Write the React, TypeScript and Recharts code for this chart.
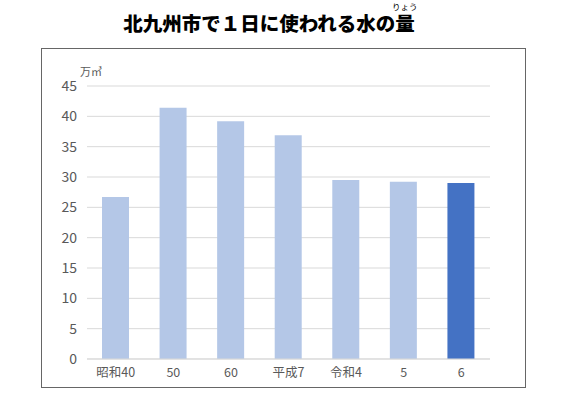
import { BarChart, Bar, XAxis, YAxis, CartesianGrid, Cell } from 'recharts';

const categories = ['昭和40', '50', '60', '平成7', '令和4', '5', '6'];
const usage = [26.7, 41.4, 39.2, 36.9, 29.5, 29.2, 29.0];
const yTicks = [0, 5, 10, 15, 20, 25, 30, 35, 40, 45];

const data = categories.map((name, i) => ({ name, value: usage[i] }));

const FONT = '"Noto Sans CJK JP", "Noto Sans", sans-serif';

export default function App() {
  return (
    <div style={{ position: 'absolute', left: 0, top: 0, width: 566, height: 393, background: '#fff', fontFamily: FONT }}>
      <div
        style={{
          position: 'absolute',
          left: 0,
          width: 538,
          top: 13,
          textAlign: 'center',
          fontSize: 19.5,
          fontWeight: 900,
          color: '#000',
          lineHeight: '20px',
        }}
      >
        北九州市で１日に使われる水の量
      </div>
      {/* furigana for 量 */}
      <div
        style={{
          position: 'absolute',
          left: 392,
          top: 2,
          fontSize: 8.5,
          lineHeight: '8px',
          color: '#000',
          whiteSpace: 'nowrap',
        }}
      >
        りょう
      </div>
      <div
        style={{
          position: 'absolute',
          left: 41,
          top: 48,
          width: 483,
          height: 338,
          border: '1.5px solid #666',
        }}
      >
        <div style={{ position: 'absolute', left: 38, top: 14, fontSize: 11, color: '#595959' }}>万㎥</div>
        <BarChart width={483} height={338} data={data} margin={{ top: 37, right: 35, left: 0, bottom: 0 }}>
          <CartesianGrid vertical={false} stroke="#d9d9d9" />
          <XAxis
            dataKey="name"
            height={28}
            tickLine={false}
            axisLine={{ stroke: '#d9d9d9' }}
            tick={{ fill: '#595959', fontSize: 12.5, fontFamily: FONT }}
            tickMargin={3}
            interval={0}
          />
          <YAxis
            width={45}
            domain={[0, 45]}
            ticks={yTicks}
            tickLine={false}
            axisLine={false}
            tickMargin={4}
            tick={{ fill: '#595959', fontSize: 14, fontFamily: FONT }}
          />
          <Bar dataKey="value" barSize={27} isAnimationActive={false}>
            {data.map((d, i) => (
              <Cell key={d.name} fill={i === data.length - 1 ? '#4472c4' : '#b4c7e7'} />
            ))}
          </Bar>
        </BarChart>
      </div>
    </div>
  );
}
